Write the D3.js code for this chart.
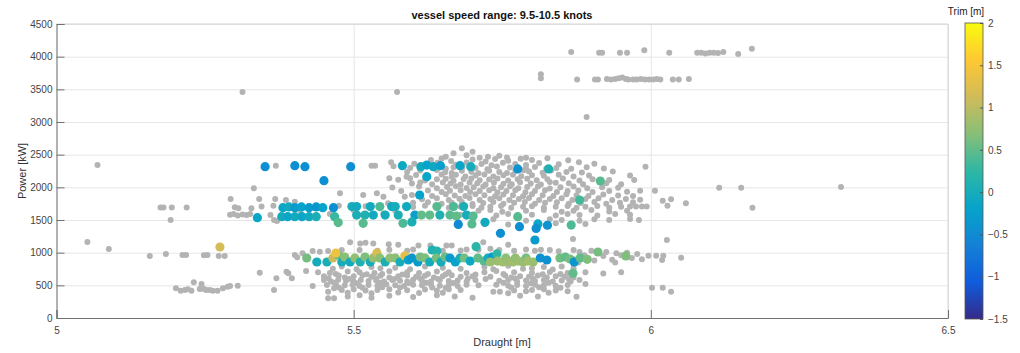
<!DOCTYPE html>
<html lang="en">
<head>
<meta charset="UTF-8">
<title>Power vs Draught</title>
<script src="https://d3js.org/d3.v7.min.js"></script>
<style>
  body { margin: 0; background: #fff; }
  text { font-family: "Liberation Sans", Arial, sans-serif; }
  .tick text { font-size: 10px; fill: #444; }
  .grid line { stroke: #e6e6e6; }
  .grid path { display: none; }
</style>
</head>
<body>
<script>

// axis ticks
const xTicks = [5, 5.5, 6, 6.5];
const yTicks = [0, 500, 1000, 1500, 2000, 2500, 3000, 3500, 4000, 4500];
const trimTicks = [-1.5, -1, -0.5, 0, 0.5, 1, 1.5, 2];

// points without trim value (grey), [draught, power]
const grayHigh = [
  [5.313,3460],[5.573,3460],[5.892,3077],
  [5.866,4070],[5.913,4060],[5.918,4060],[5.948,4060],[5.960,4060],[5.989,4100],[6.031,4060],
  [6.078,4060],[6.085,4060],[6.092,4050],[6.099,4060],[6.106,4060],[6.113,4055],[6.122,4070],[6.147,4040],[6.170,4120],
  [5.815,3731],[5.815,3670],[5.876,3650],[5.906,3650],[5.911,3650],[5.926,3660],[5.933,3650],[5.940,3660],
  [5.946,3670],[5.952,3680],[5.958,3660],[5.962,3650],[5.970,3650],[5.976,3650],[5.983,3660],[5.990,3650],
  [5.997,3650],[6.004,3650],[6.010,3660],[6.016,3650],[6.037,3650],[6.047,3650],[6.064,3660]
];

const grayLeft = [
  [5.069,2342],[5.052,1163],[5.088,1056],[5.157,949],[5.184,980],[5.212,964],[5.218,964],[5.248,960],
  [5.254,964],[5.273,950],[5.283,950],
  [5.175,1690],[5.180,1690],[5.194,1690],[5.219,1690],[5.192,1500],
  [5.201,455],[5.209,418],[5.216,429],[5.221,439],[5.227,418],[5.231,546],[5.241,444],[5.244,520],
  [5.248,444],[5.252,429],[5.258,429],[5.263,418],[5.271,418],[5.280,455],[5.288,480],[5.292,490],[5.305,495],
  [6.320,2005],[6.115,1995],[6.152,1995],[6.171,1689]
];

const grayBlob = [
  [5.682,2598],[5.700,2545],[5.668,2520],
  [5.655,2468],[5.690,2492],[5.712,2451],[5.726,2470],[5.745,2484],[5.781,2436],[5.758,2455],
  [5.563,2384],[5.630,2418],[5.648,2440],[5.664,2402],[5.700,2427],[5.722,2396],[5.738,2433],[5.760,2406],[5.800,2418],[5.826,2447],[5.861,2415],[5.790,2452],
  [5.602,2362],[5.641,2378],[5.672,2344],[5.690,2381],[5.715,2356],[5.732,2338],[5.751,2375],[5.772,2359],[5.790,2340],[5.812,2371],[5.845,2353],[5.879,2384],[5.905,2361],[5.625,2345],
  [5.369,2331],[5.530,2331],[5.536,2331],[5.567,2322],[5.595,2296],[5.655,2283],[5.668,2306],[5.705,2297],[5.725,2278],[5.741,2318],[5.763,2302],[5.790,2284],[5.805,2312],[5.841,2296],[5.866,2283],[5.892,2309],[5.921,2287],[5.683,2312],[5.824,2290],
  [5.590,2236],[5.612,2258],[5.640,2266],[5.654,2232],[5.665,2221],[5.682,2254],[5.698,2238],[5.710,2216],[5.728,2252],[5.745,2233],[5.758,2219],[5.772,2251],[5.795,2241],[5.818,2225],[5.832,2258],[5.858,2236],[5.884,2228],[5.936,2244],[5.786,2263],
  [5.560,2139],[5.589,2163],[5.595,2139],[5.605,2189],[5.625,2177],[5.648,2196],[5.665,2163],[5.672,2194],[5.688,2166],[5.705,2183],[5.720,2196],[5.735,2164],[5.752,2185],[5.768,2192],[5.782,2168],[5.800,2184],[5.820,2176],[5.845,2193],[5.870,2167],[5.896,2181],[5.965,2180],
  [5.575,2117],[5.620,2106],[5.640,2124],[5.655,2133],[5.668,2102],[5.685,2126],[5.698,2136],[5.712,2108],[5.728,2118],[5.742,2134],[5.760,2104],[5.776,2125],[5.792,2131],[5.808,2107],[5.826,2122],[5.852,2134],[5.880,2106],[5.902,2122],[5.930,2111],
  [5.598,2058],[5.632,2046],[5.650,2073],[5.663,2057],[5.680,2044],[5.695,2074],[5.708,2063],[5.722,2042],[5.736,2072],[5.752,2056],[5.766,2047],[5.780,2076],[5.798,2058],[5.815,2044],[5.840,2071],[5.862,2063],[5.886,2048],[5.925,2062],[5.950,2049],[5.612,2075],[5.830,2080],
  [5.565,1996],[5.610,2013],[5.640,1986],[5.657,2004],[5.672,2016],[5.690,1988],[5.702,2003],[5.718,2014],[5.735,1985],[5.748,2002],[5.763,2015],[5.777,1987],[5.792,2004],[5.810,2012],[5.830,1984],[5.848,2003],[5.870,2014],[5.893,1986],[5.918,2002],[5.945,1993],[5.982,1949],[6.007,1949],
  [5.477,1909],[5.539,1909],[5.580,1944],[5.625,1953],[5.648,1928],[5.662,1946],[5.680,1957],[5.696,1927],[5.712,1942],[5.728,1954],[5.742,1926],[5.757,1944],[5.772,1956],[5.789,1925],[5.805,1943],[5.822,1955],[5.842,1928],[5.860,1945],[5.878,1952],[5.902,1927],[5.930,1942],[5.960,1931],[5.972,2112],[5.991,2316],
  [5.516,1883],[5.550,1857],[5.586,1857],[5.598,1884],[5.632,1866],[5.655,1893],[5.670,1876],[5.688,1868],[5.705,1894],[5.720,1877],[5.738,1865],[5.752,1892],[5.768,1878],[5.785,1864],[5.800,1895],[5.818,1879],[5.836,1866],[5.858,1893],[5.875,1878],[5.895,1867],[5.920,1891],[5.945,1876],[5.970,1869],
  [5.293,1822],[5.332,1985],[5.341,1822],[5.368,1822],[5.386,1806],[5.615,1818],[5.640,1833],[5.660,1806],[5.678,1824],[5.695,1836],[5.712,1807],[5.730,1822],[5.745,1834],[5.762,1805],[5.778,1823],[5.795,1835],[5.812,1806],[5.830,1822],[5.850,1833],[5.868,1806],[5.890,1823],[5.912,1834],[5.935,1808],[5.958,1822],[5.982,1810],[6.020,1796],[6.034,1817],
  [5.401,1780],[5.558,1756],[5.600,1763],[5.625,1772],[5.648,1748],[5.665,1764],[5.682,1775],[5.700,1746],[5.718,1762],[5.735,1774],[5.752,1747],[5.770,1763],[5.788,1776],[5.805,1748],[5.822,1764],[5.842,1773],[5.862,1747],[5.882,1762],[5.905,1774],[5.925,1748],[5.948,1763],[5.970,1772],[6.059,1756],[6.028,1719],
  [5.300,1695],[5.306,1679],[5.328,1679],[5.345,1705],[5.365,1720],[5.475,1720],[5.520,1710],[5.600,1700],[5.620,1720],[5.660,1688],[5.680,1703],[5.700,1714],[5.715,1686],[5.730,1702],[5.748,1713],[5.765,1687],[5.785,1704],[5.800,1712],[5.820,1688],[5.840,1701],[5.860,1714],[5.875,1689],[5.890,1703],[5.910,1713],[5.930,1688],[5.950,1702],[5.965,1705],[5.975,1705],[5.985,1705],[5.993,1705],
  [5.410,1640],[5.500,1650],[5.570,1640],[5.710,1640],[5.730,1652],[5.750,1628],[5.790,1641],[5.820,1654],[5.850,1627],[5.870,1642],[5.900,1653],[5.930,1629],[5.960,1641],
  [5.292,1580],[5.298,1590],[5.305,1570],[5.313,1585],[5.320,1575],[5.326,1590],[5.360,1577],[5.460,1590],[5.550,1600],[5.680,1580],[5.740,1568],[5.760,1592],[5.800,1579],[5.840,1567],[5.860,1591],[5.880,1578],[5.910,1569],[5.940,1592],[5.965,1580],
  [5.366,1500],[5.371,1485],[5.700,1500],[5.735,1512],[5.790,1488],[5.830,1510],[5.850,1499],[5.880,1487],[5.905,1511],[5.930,1500],[5.965,1516],[5.980,1500],
  [5.720,1440],[5.760,1430],[5.840,1450],[5.890,1440],[5.869,1210],[6.027,1194]
];

const grayBand = [
  [5.401,964],[5.405,930],[5.414,990],[5.431,1025],[5.443,1015],[5.457,1025],[5.494,1158],[5.510,1040],
  [5.511,1140],[5.520,1150],[5.533,1140],[5.540,1030],[5.559,1130],[5.575,1120],[5.590,1030],[5.609,1110],
  [5.629,1110],[5.650,1030],[5.656,1110],[5.665,1110],[5.690,1050],[5.718,1160],[5.730,1060],[5.745,1040],
  [5.760,1120],[5.790,1050],[5.805,1030],[5.830,1040],[5.845,1020],[5.870,1040],[5.880,1010],[5.900,1030],
  [5.925,1010],[5.942,990],[5.960,1000],[5.977,980],[5.996,954],[6.009,954],[6.021,954],[6.019,888],[6.051,923],
  [5.870,900],[5.888,960],[5.905,880],[5.920,950],[5.935,890],[5.950,960],[5.968,920],[5.985,900],[5.878,850],[5.940,850],
  [5.480,1040],[5.560,1045],[5.600,1050],[5.680,1035],[5.710,1045],[5.770,1030],[5.815,1045]
];

const grayLow = [
  [5.342,694],[5.370,607],[5.366,429],[5.387,709],[5.390,684],[5.396,607],
  [5.480,790],[5.530,780],[5.570,770],[5.620,790],[5.650,770],[5.720,780],[5.760,800],[5.800,760],[5.820,780],[5.850,790],
  [5.465,755],[5.505,745],[5.545,760],[5.595,748],[5.680,752],[5.735,745],[5.785,755],[5.835,742],[5.870,760],
  [5.420,720],[5.440,700],[5.460,690],[5.490,710],[5.510,700],[5.535,690],[5.560,715],[5.590,700],[5.610,690],[5.640,710],
  [5.660,700],[5.690,690],[5.720,700],[5.740,720],[5.770,700],[5.800,690],[5.830,705],[5.860,690],[5.890,700],[5.920,680],[5.950,700],
  [5.470,672],[5.522,668],[5.548,675],[5.582,665],[5.625,672],[5.655,668],[5.705,665],[5.752,675],[5.818,668],[5.848,672],
  [5.450,640],[5.475,650],[5.485,620],[5.500,640],[5.515,655],[5.530,630],[5.545,645],[5.560,620],[5.575,640],[5.590,650],
  [5.605,630],[5.620,645],[5.635,620],[5.650,640],[5.665,655],[5.680,630],[5.700,640],[5.730,630],[5.755,650],[5.765,620],
  [5.780,640],[5.795,630],[5.810,650],[5.825,620],[5.840,640],[5.855,630],[5.870,620],
  [5.458,605],[5.492,598],[5.538,602],[5.568,596],[5.612,604],[5.642,598],[5.692,602],[5.722,598],[5.772,604],[5.802,600],[5.862,598],
  [5.450,580],[5.462,560],[5.474,585],[5.487,570],[5.500,560],[5.512,580],[5.525,565],[5.538,575],[5.551,560],[5.565,580],
  [5.578,570],[5.590,560],[5.600,585],[5.615,570],[5.630,560],[5.645,580],[5.660,565],[5.675,575],[5.690,560],[5.705,580],
  [5.745,570],[5.760,580],[5.775,560],[5.790,575],[5.805,565],[5.820,580],[5.835,560],[5.850,575],[5.865,560],[5.880,580],
  [5.468,538],[5.505,532],[5.545,540],[5.592,534],[5.622,540],[5.668,535],[5.752,538],[5.798,532],[5.828,540],
  [5.431,490],[5.455,505],[5.470,520],[5.485,500],[5.498,510],[5.510,490],[5.525,505],[5.540,495],[5.555,515],[5.570,500],
  [5.585,490],[5.600,510],[5.615,500],[5.630,515],[5.645,495],[5.660,505],[5.675,490],[5.690,510],[5.710,500],[5.740,510],
  [5.760,495],[5.775,505],[5.790,490],[5.805,510],[5.820,500],[5.840,495],[5.860,505],[5.890,520],
  [5.475,468],[5.515,462],[5.548,470],[5.578,465],[5.632,468],[5.655,462],[5.765,466],[5.812,470],[5.848,464],
  [5.457,403],[5.467,455],[5.480,430],[5.500,440],[5.520,420],[5.540,430],[5.560,440],[5.590,425],[5.620,435],[5.640,420],
  [5.660,440],[5.680,430],[5.735,403],[5.746,403],[5.770,420],[5.790,410],[5.800,430],[5.820,440],[5.840,420],[5.860,410],
  [5.490,385],[5.530,378],[5.575,390],[5.610,382],[5.650,388],[5.760,380],[5.828,386],
  [5.457,301],[5.467,301],[5.490,330],[5.510,350],[5.530,310],[5.560,340],[5.600,320],[5.640,350],[5.670,330],[5.700,310],
  [5.780,340],[5.810,330],[5.875,326],[6.002,464],[6.020,464],[6.034,403]
];

// points with trim value, [draught, power, trim]
const trimPoints = [
  [5.351,2316,-0.45],[5.401,2331,-0.45],[5.418,2316,-0.45],[5.495,2316,-0.45],[5.582,2331,-0.1],[5.613,2316,-0.05],
  [5.623,2340,-0.2],[5.634,2316,-0.1],[5.646,2331,-0.25],[5.679,2331,-0.15],[5.697,2316,0.0],[5.776,2281,-0.4],[5.828,2281,0.1],
  [5.450,2102,-0.45],[5.623,2163,-0.15],[5.611,1883,-0.2],[5.915,2097,0.45],[5.880,1806,0.35],
  [5.381,1689,-0.15],[5.391,1700,-0.05],[5.401,1689,-0.3],[5.412,1700,-0.2],[5.425,1689,-0.3],[5.437,1700,-0.35],
  [5.448,1689,-0.2],[5.466,1689,-0.45],[5.497,1705,0.0],[5.505,1705,-0.05],[5.528,1705,-0.05],[5.544,1705,0.4],
  [5.564,1705,-0.1],[5.570,1705,0.0],[5.589,1705,-0.05],[5.640,1705,0.45],[5.668,1705,0.4],[5.685,1705,0.05],
  [5.338,1535,-0.15],[5.379,1551,-0.05],[5.389,1551,-0.15],[5.401,1551,-0.05],[5.413,1551,-0.15],[5.425,1551,-0.05],
  [5.437,1551,0.05],[5.468,1551,0.3],[5.474,1460,0.45],[5.505,1576,0.05],[5.519,1576,0.1],[5.533,1576,-0.05],
  [5.553,1576,0.0],[5.575,1576,0.05],[5.603,1576,-0.25],[5.614,1576,0.5],[5.628,1576,0.5],[5.645,1576,0.1],
  [5.662,1576,0.45],[5.673,1560,0.5],[5.690,1576,0.0],[5.701,1560,0.45],[5.721,1464,-0.05],
  [5.516,1449,0.45],[5.583,1449,0.4],[5.598,1470,0.05],[5.676,1433,-0.5],[5.699,1440,0.45],
  [5.776,1551,0.45],[5.747,1296,-0.45],[5.779,1398,-0.45],[5.810,1440,-0.15],[5.826,1420,-0.4],[5.807,1370,-0.45],
  [5.805,1194,-0.3],[5.866,1423,0.4],
  [5.275,1087,1.15],
  [5.421,918,0.6],[5.438,857,0.0],[5.455,857,0.05],[5.465,918,1.1],[5.474,964,0.55],[5.470,995,1.4],[5.480,857,0.0],
  [5.485,934,0.7],[5.494,857,-0.05],[5.502,918,0.75],[5.511,857,0.1],[5.519,934,0.65],[5.528,857,0.0],[5.533,918,0.8],
  [5.539,995,1.2],[5.544,918,0.7],[5.553,857,0.05],[5.561,918,0.75],[5.570,918,0.7],[5.578,857,0.0],[5.586,950,1.3],
  [5.592,888,-0.2],[5.598,918,-0.35],[5.608,857,-0.3],[5.612,934,0.6],[5.620,918,0.65],[5.628,857,0.0],[5.632,1041,0.1],
  [5.640,1025,0.15],[5.639,918,0.6],[5.647,857,0.0],[5.654,934,0.55],[5.662,918,-0.3],[5.671,857,-0.2],[5.679,918,0.0],
  [5.686,918,0.6],[5.696,872,-0.1],[5.706,1091,0.2],[5.709,918,0.5],[5.719,872,0.45],[5.726,918,0.0],[5.733,934,-0.3],
  [5.741,980,0.25],[5.730,857,0.8],[5.742,872,0.8],[5.751,857,0.85],[5.756,918,0.7],[5.760,872,0.8],[5.768,857,0.85],
  [5.772,918,0.75],[5.777,872,0.8],[5.785,857,0.8],[5.790,918,0.6],[5.793,872,0.85],[5.802,857,0.8],
  [5.814,918,-0.4],[5.825,888,-0.45],[5.847,918,0.6],[5.856,934,0.5],[5.864,903,0.6],[5.871,857,-0.35],[5.881,918,0.5],
  [5.893,898,0.65],[5.911,1010,0.6],[5.958,950,0.65],[5.869,684,0.5]
];

// parula colour stops
const parulaColors = ["#352a87", "#0f5cdd", "#1481d6", "#06a4ca", "#2eb7a4", "#87bf77", "#d1bb59", "#fec832", "#f9fb0e"];

const width = 1020, height = 353;
const svg = d3.select("body").append("svg")
  .attr("width", width)
  .attr("height", height);

const x = d3.scaleLinear().domain([5, 6.5]).range([56.5, 948]);
const y = d3.scaleLinear().domain([0, 4500]).range([318, 24]);

const trimDomain = [-1.5, 2];
const color = d3.scaleLinear()
  .domain(parulaColors.map((c, i) => trimDomain[0] + i * (trimDomain[1] - trimDomain[0]) / (parulaColors.length - 1)))
  .range(parulaColors)
  .interpolate(d3.interpolateRgb);

// grid
svg.append("g").attr("class", "grid")
  .attr("transform", "translate(0," + y(0) + ")")
  .call(d3.axisBottom(x).tickValues(xTicks).tickSize(-(y(0) - y(4500))).tickFormat(""));
svg.append("g").attr("class", "grid")
  .attr("transform", "translate(" + x(5) + ",0)")
  .call(d3.axisLeft(y).tickValues(yTicks).tickSize(-(x(6.5) - x(5))).tickFormat(""));

// box top/right
svg.append("path")
  .attr("d", "M" + x(5) + "," + y(4500) + "H" + x(6.5) + "V" + y(0))
  .attr("fill", "none").attr("stroke", "#d4d4d4");

// points
const allGray = grayHigh.concat(grayLeft, grayBlob, grayBand, grayLow);
svg.append("g").selectAll("circle")
  .data(allGray)
  .join("circle")
  .attr("cx", d => x(d[0]))
  .attr("cy", d => y(d[1]))
  .attr("r", 3)
  .attr("fill", "#b3b3b3");

svg.append("g").selectAll("circle")
  .data(trimPoints)
  .join("circle")
  .attr("cx", d => x(d[0]))
  .attr("cy", d => y(d[1]))
  .attr("r", 4.6)
  .attr("fill", d => color(d[2]));

// axes
const xAxis = svg.append("g")
  .attr("transform", "translate(0," + y(0) + ")")
  .call(d3.axisBottom(x).tickValues(xTicks).tickSize(-8).tickPadding(6).tickFormat(d3.format("")));
const yAxis = svg.append("g")
  .attr("transform", "translate(" + x(5) + ",0)")
  .call(d3.axisLeft(y).tickValues(yTicks).tickSize(-8).tickPadding(4).tickFormat(d3.format("d")));
[xAxis, yAxis].forEach(a => {
  a.select(".domain").attr("stroke", "#707070");
  a.selectAll(".tick line").attr("stroke", "#707070");
});
xAxis.selectAll(".tick text").attr("dy", "1em");

// titles
svg.append("text")
  .attr("x", 502).attr("y", 19)
  .attr("text-anchor", "middle")
  .style("font-size", "11px").style("font-weight", "bold").attr("fill", "#111")
  .text("vessel speed range: 9.5-10.5 knots");
svg.append("text")
  .attr("x", 502).attr("y", 346)
  .attr("text-anchor", "middle")
  .style("font-size", "11px").attr("fill", "#333")
  .text("Draught [m]");
svg.append("text")
  .attr("transform", "translate(26,171) rotate(-90)")
  .attr("text-anchor", "middle")
  .style("font-size", "11px").attr("fill", "#333")
  .text("Power [kW]");

// colorbar
const cb = { x: 965, w: 18 };
const cy = d3.scaleLinear().domain(trimDomain).range([319, 23]);
const grad = svg.append("defs").append("linearGradient")
  .attr("id", "parula").attr("x1", 0).attr("y1", 1).attr("x2", 0).attr("y2", 0);
grad.selectAll("stop")
  .data(parulaColors)
  .join("stop")
  .attr("offset", (d, i) => i / (parulaColors.length - 1))
  .attr("stop-color", d => d);
svg.append("rect")
  .attr("x", cb.x).attr("y", cy(2))
  .attr("width", cb.w).attr("height", cy(-1.5) - cy(2))
  .attr("fill", "url(#parula)")
  .attr("stroke", "#555").attr("stroke-width", 0.8);
const cbAxis = svg.append("g")
  .attr("transform", "translate(" + (cb.x + cb.w) + ",0)")
  .call(d3.axisRight(cy).tickValues(trimTicks).tickSize(-3).tickPadding(5).tickFormat(d3.format("")));
cbAxis.select(".domain").remove();
cbAxis.selectAll(".tick line").attr("stroke", "#555");
svg.append("text")
  .attr("x", 966).attr("y", 15)
  .attr("text-anchor", "middle")
  .style("font-size", "10px").attr("fill", "#222")
  .text("Trim [m]");

</script>
</body>
</html>
